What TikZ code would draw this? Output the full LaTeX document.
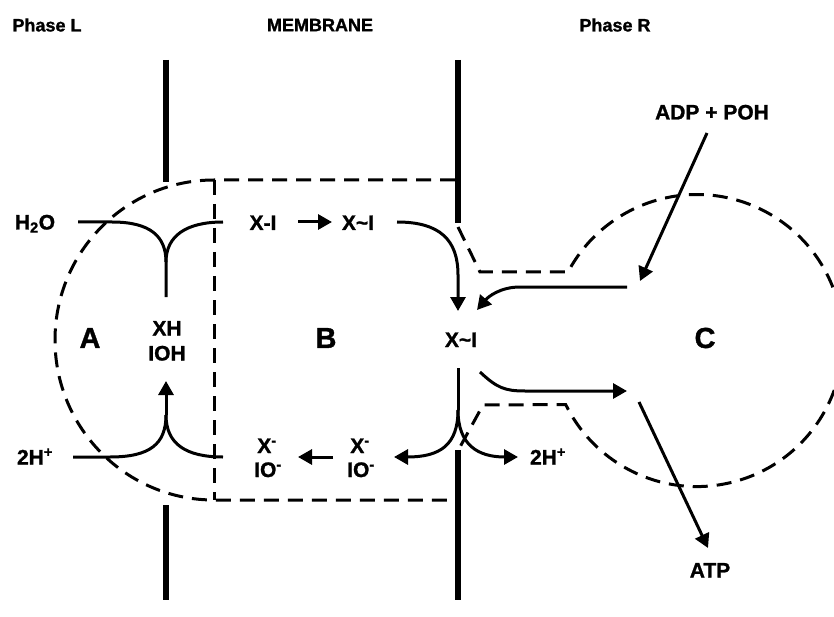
\documentclass[tikz,border=0pt]{standalone}
\usepackage{fontspec}
\setmainfont{Liberation Sans}[BoldFeatures={FakeBold=1.2}]
\usetikzlibrary{arrows.meta}
\tikzset{
  memb/.style={line width=6.5pt},
  dsh/.style={line width=3pt, dash pattern=on 15pt off 9pt},
  flow/.style={line width=3pt},
  arr/.style={flow, -{Triangle[length=14pt,width=15pt]}},
  lbl/.style={font=\fontsize{21}{23}\selectfont\bfseries, inner sep=0pt, anchor=base},
  big/.style={font=\fontsize{29}{31}\selectfont\bfseries, inner sep=0pt},
  head/.style={font=\fontsize{18}{20}\selectfont\bfseries, inner sep=0pt},
}
\begin{document}
\begin{tikzpicture}[x=1pt,y=-1pt]
\clip (0,0) rectangle (834,617);
\fill[white] (0,0) rectangle (834,617);

% headings
\node[head] (phL) at (47,25) {Phase L};
\node[head] (mem) at (320,25) {MEMBRANE};
\node[head] (phR) at (615,25) {Phase R};

% compartment outlines
\draw[dsh] (455,180) -- (214,180) arc[start angle=270, end angle=90, x radius=159, y radius=160] -- (457,500);
\draw[dsh] (214,180) -- (214,500);
\draw[dsh] (458,227) -- (480,272) -- (568,272) arc[start angle=208, end angle=514, radius=146] -- (483,405) -- (460,447);

% membranes
\draw[memb] (166,60) -- (166,182);
\draw[memb] (166,505) -- (166,600);
\draw[memb] (458,60) -- (458,223);
\draw[memb] (458,450) -- (458,600);

% labels
\node[lbl] (h2o) at (35,229.5) {H\textsubscript{2}O};
\node[lbl] (hl) at (35,464.5) {2H\textsuperscript{+}};
\node[big] (A) at (90,338) {A};
\node[big] (B) at (326,338) {B};
\node[big] (C) at (705,338) {C};
\node[lbl] (xh) at (167,335.5) {XH};
\node[lbl] (ioh) at (167,360.5) {IOH};
\node[lbl] (xi1) at (263,230) {X-I};
\node[lbl] (xi2) at (358,230) {X\textasciitilde I};
\node[lbl] (xi3) at (461,347) {X\textasciitilde I};
\node[lbl] (xm1) at (267,453) {X\textsuperscript{-}};
\node[lbl] (io1) at (268,477) {IO\textsuperscript{-}};
\node[lbl] (xm2) at (360,453) {X\textsuperscript{-}};
\node[lbl] (io2) at (361,477) {IO\textsuperscript{-}};
\node[lbl] (hr) at (548,464.5) {2H\textsuperscript{+}};
\node[lbl] (adp) at (712,119.5) {ADP + POH};
\node[lbl] (atp) at (710,577.5) {ATP};

% coordinates
\coordinate (cu1) at (166,262);
\coordinate (cu2) at (166,415);
\coordinate (cu3) at (458,410);

% left side reactions
\draw[flow] (78,222) -- (112,222) .. controls (150,222) and (166,236) .. (cu1) -- (166,297);
\draw[flow] (223,222) .. controls (186,222) and (166,236) .. (cu1);
\draw[flow] (73,457) -- (110,457) .. controls (150,457) and (166,444) .. (cu2);
\draw[flow] (223,457) .. controls (186,457) and (166,444) .. (cu2);
\draw[arr] (cu2) -- (166,381);

% B reactions
\draw[arr] (298,222) -- (332,222);
\draw[arr] (333,457) -- (298,457);
\draw[arr] (397,222) .. controls (440,222) and (458,240) .. (458,275) -- (458,311);
\draw[flow] (458,368) -- (cu3);
\draw[arr] (cu3) .. controls (458,445) and (440,457) .. (394,457);
\draw[arr] (cu3) .. controls (458,445) and (478,457) .. (518,457);

% C reactions
\draw[arr] (627,287) -- (520,287) .. controls (500,287) and (488,297) .. (477,310);
\draw[arr] (707,133) -- (640,281);
\draw[arr] (480,372) .. controls (497,388) and (505,391) .. (525,391) -- (627,391);
\draw[arr] (639,402) -- (708,548);
\end{tikzpicture}
\end{document}
